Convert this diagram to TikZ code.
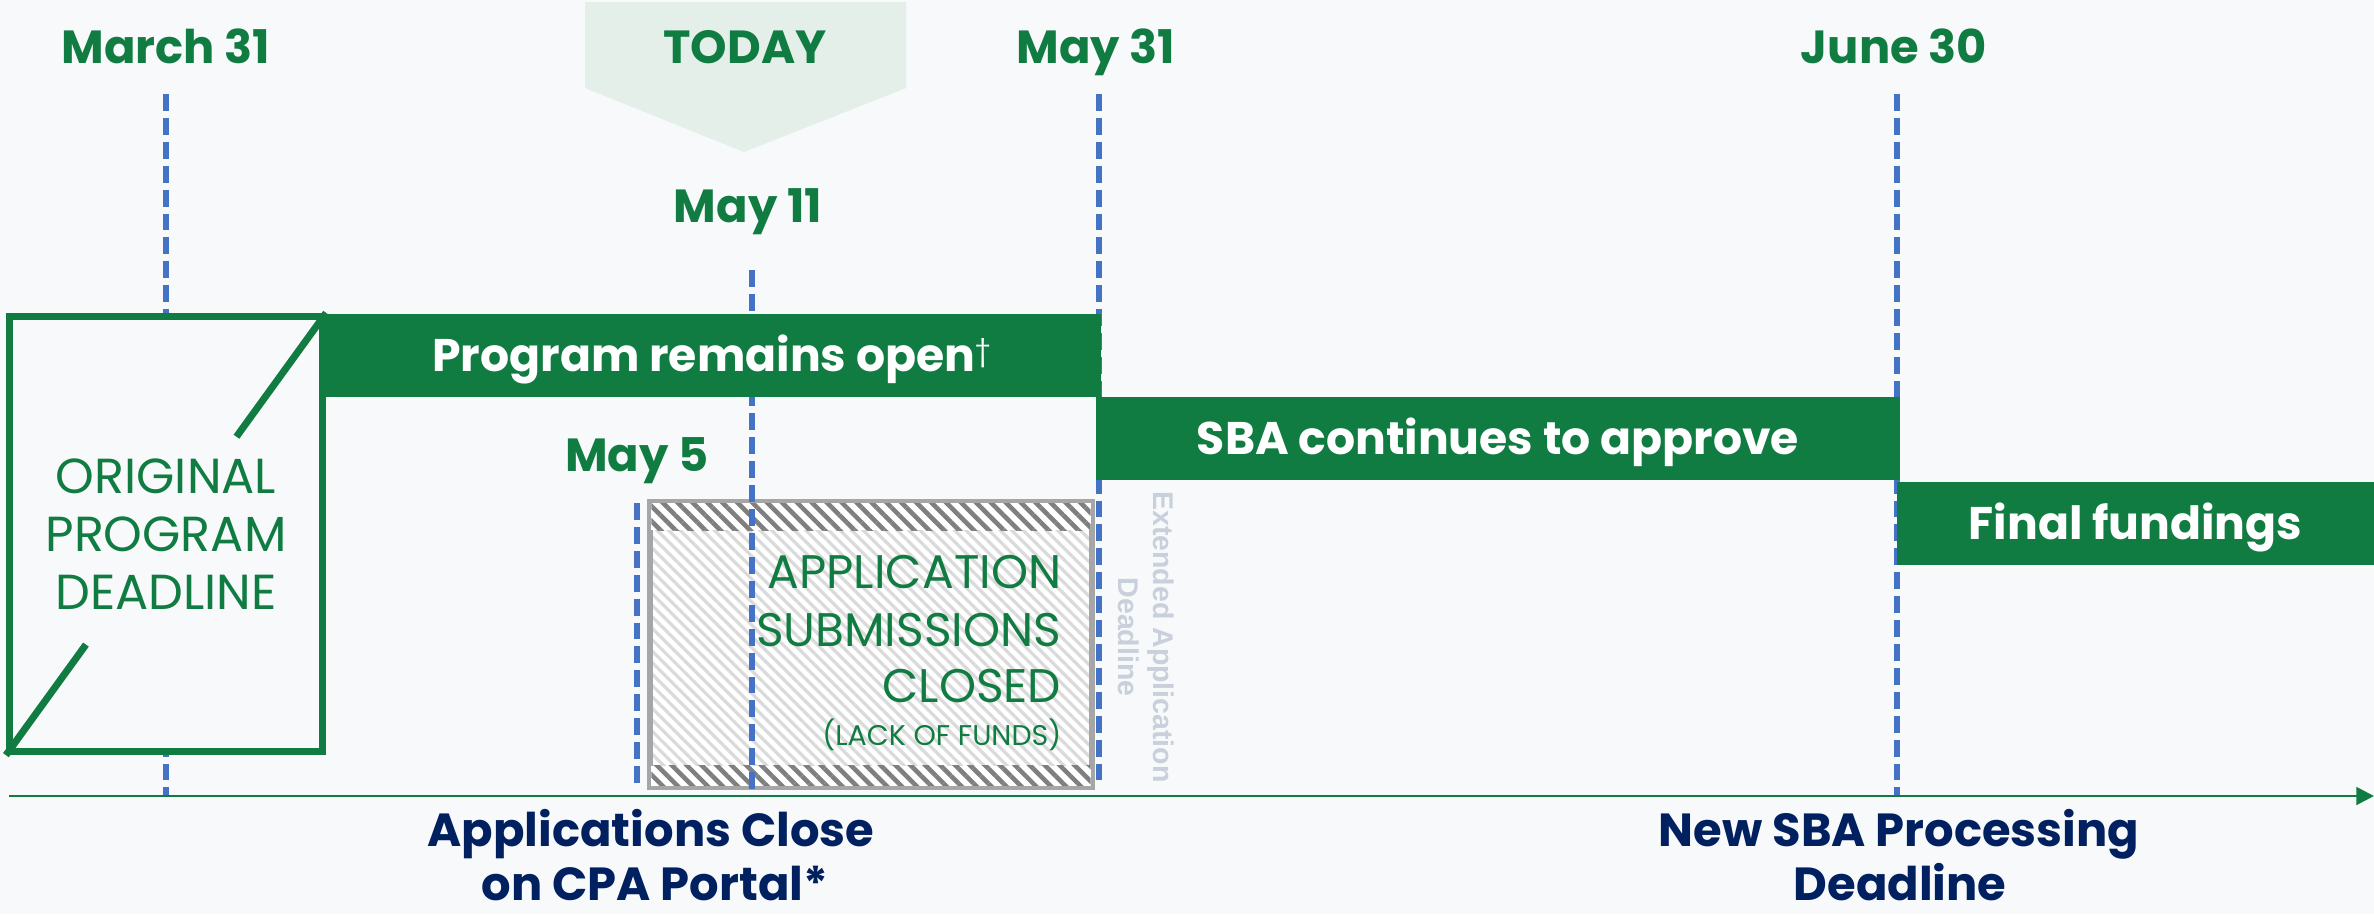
\documentclass[tikz,border=0pt]{standalone}
\usepackage{fontspec}
\setmainfont{Poppins}
\newfontfamily\arialfont{Liberation Sans}
\usetikzlibrary{arrows.meta,patterns.meta,calc}
\definecolor{bg}{HTML}{F7F9FB}
\definecolor{pgreen}{HTML}{107C41}
\definecolor{navy}{HTML}{002060}
\definecolor{mblue}{HTML}{4472C4}
\definecolor{todayfill}{HTML}{E3EFE8}
\definecolor{boxgray}{HTML}{A6A6A6}
\definecolor{hatchlight}{HTML}{DADADA}
\definecolor{hatchdark}{HTML}{7F7F7F}
\definecolor{extgray}{HTML}{C8D0DC}
\begin{document}
\begin{tikzpicture}[x=0.01cm,y=-0.01cm,
  datelbl/.style={font=\fontsize{13.2}{16}\selectfont\bfseries, text=pgreen, anchor=base, inner sep=0pt},
  footlbl/.style={font=\fontsize{13.2}{16}\selectfont\bfseries, text=navy, anchor=base, inner sep=0pt,
    text depth=0pt},
  bar/.style={fill=pgreen, text=white, font=\fontsize{13}{16}\selectfont\bfseries,
    inner sep=0pt, text height=9.2pt, text depth=0pt, minimum height=0.83cm},
  marker/.style={draw=mblue, line width=1.8pt, dash pattern=on 4.8pt off 2pt},
  thinlbl/.style={text=pgreen, inner sep=0pt, anchor=base east},
  axisline/.style={draw=pgreen, line width=0.8pt, -{Triangle[length=5pt,width=5pt]}}
]
% canvas
\useasboundingbox (0,0) rectangle (2374,914);
\fill[bg] (0,0) rectangle (2374,914);

% marker line end points
\coordinate (m31t) at (166,94);   \coordinate (m31b) at (166,795);
\coordinate (may5t) at (637,503); \coordinate (may5b) at (637,786);
\coordinate (may11t) at (752,270);\coordinate (may11b) at (752,790);
\coordinate (may31t) at (1099,94);\coordinate (may31b) at (1099,786);
\coordinate (jun30t) at (1897,94);\coordinate (jun30b) at (1897,795);

% closed-submissions block (hatched)
\node[draw=boxgray, line width=1.1pt, preaction={fill=white},
      pattern={Lines[angle=-45,distance=2.3pt,line width=0.9pt]}, pattern color=hatchlight,
      minimum width=4.40cm, minimum height=2.83cm, inner sep=0pt] (closed) at (871,644.5) {};
\path[preaction={fill=white}, pattern={Lines[angle=-45,distance=3pt,line width=1.3pt]}, pattern color=hatchdark]
  ($(closed.north west)+(2,2)$) rectangle ($(closed.north east)+(-2,29)$);
\path[preaction={fill=white}, pattern={Lines[angle=-45,distance=3pt,line width=1.3pt]}, pattern color=hatchdark]
  ($(closed.south west)+(2,-22)$) rectangle ($(closed.south east)+(-2,-2)$);
\draw[boxgray, line width=1.1pt] (closed.north west) rectangle (closed.south east);

% date markers
\draw[marker] (m31t) -- (m31b);
\draw[marker] (may5t) -- (may5b);
\draw[marker] (may11t) -- (may11b);
\draw[marker] (may31t) -- (may31b);
\draw[marker] (jun30t) -- (jun30b);

% original deadline box
\node[draw=pgreen, line width=2pt, fill=bg, minimum width=3.13cm, minimum height=4.35cm,
      inner sep=0pt, align=center, text=pgreen, font=\fontsize{14}{16.5}\selectfont] (orig) at (166,534)
      {ORIGINAL\\PROGRAM\\DEADLINE};
\draw[pgreen, line width=2pt] (orig.south west) -- ($(orig.south west)!0.25!(orig.north east)$);
\draw[pgreen, line width=2pt] ($(orig.south west)!0.72!(orig.north east)$) -- (orig.north east);

% phase bars
\node[bar, minimum width=7.79cm] (open) at (711.5,355.5)
  {Program remains open\raisebox{3.2pt}{\fontsize{8}{8}\selectfont\mdseries †}};
\node[bar, minimum width=8.04cm] (approve) at (1498,438.5) {SBA continues to approve};
\node[bar, minimum width=4.77cm] (fund) at (2135.5,523.5) {Final fundings};

% text inside the closed block
\node[thinlbl, font=\fontsize{13.4}{16}\selectfont] (cl1) at (1062,588) {APPLICATION};
\node[thinlbl, font=\fontsize{13.4}{16}\selectfont] (cl2) at (1062,646) {SUBMISSIONS};
\node[thinlbl, font=\fontsize{13.4}{16}\selectfont] (cl3) at (1062,702) {CLOSED};
\node[thinlbl, font=\fontsize{8.1}{10}\selectfont] (cl4) at (1062,745) {(LACK OF FUNDS)};

% extended deadline note
\node[rotate=-90, align=center, text=extgray, inner sep=0pt,
      font=\arialfont\bfseries\fontsize{8.1}{10}\selectfont] (ext) at (1146,637)
      {Extended Application\\Deadline};

% today flag
\fill[todayfill] (585,2) -- (906,2) -- (906,88) -- (744,152) -- (585,88) -- cycle;
\node[datelbl] (today) at (745,63) {TODAY};

% date labels
\node[datelbl] (lmar31) at (166,63) {March 31};
\node[datelbl] (lmay31) at (1096,63) {May 31};
\node[datelbl] (ljun30) at (1894,63) {June 30};
\node[datelbl] (lmay11) at (748,222) {May 11};
\node[datelbl] (lmay5) at (637,471) {May 5};

% time axis
\coordinate (axL) at (9,796);
\coordinate (axR) at (2374,796);
\draw[axisline] (axL) -- (axR);

% deadline captions
\node[footlbl] (cpa1) at (651,846) {Applications Close};
\node[footlbl] (cpa2) at (655,900) {on CPA Portal*};
\node[footlbl] (sba1) at (1899,846) {New SBA Processing};
\node[footlbl] (sba2) at (1900,900) {Deadline};
\end{tikzpicture}
\end{document}
